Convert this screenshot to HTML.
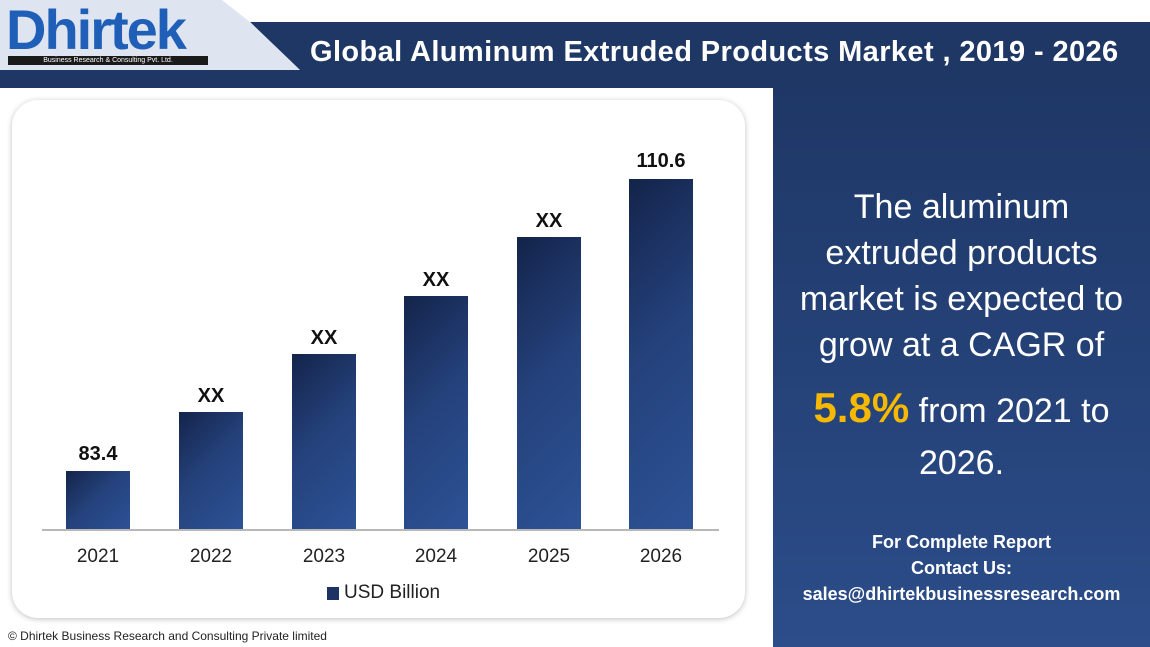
<!DOCTYPE html>
<html><head><meta charset="utf-8"><style>
body{margin:0;width:1150px;height:647px;position:relative;overflow:hidden;background:#fff;font-family:"Liberation Sans",sans-serif}
.a{position:absolute}
.bar{position:absolute;width:64px;background:linear-gradient(135deg,#14244a 0%,#24417a 45%,#2d5296 100%)}
.lbl{position:absolute;width:120px;text-align:center;font-weight:bold;font-size:20px;color:#111}
.yr{position:absolute;width:120px;text-align:center;font-size:19px;color:#222;top:546px}
.rt{position:absolute;left:773px;width:377px;text-align:center;color:#fff;font-size:34px;line-height:46px}
</style></head><body>
<svg class="a" style="left:0;top:0" width="1150" height="100">
<polygon points="0,0 222,0 300,70 0,70" fill="#dfe5f0"/>
<polygon points="250,22 1150,22 1150,88 0,88 0,70 300,70" fill="#1e3764"/>
<polygon points="222,0 300,70 250,22" fill="#dfe5f0"/>
</svg>
<div class="a" style="left:6px;top:2px;font-size:56px;font-weight:bold;color:#1f5fb8;letter-spacing:-2px;line-height:56px">Dhirtek</div>
<div class="a" style="left:8px;top:56px;width:200px;height:9px;background:#1a1a1a;color:#fff;font-size:7px;line-height:9px;text-align:center">Business Research &amp; Consulting Pvt. Ltd.</div>
<div class="a" style="left:310px;top:36px;font-size:29px;font-weight:bold;color:#fff;white-space:nowrap;letter-spacing:0.4px">Global Aluminum Extruded Products Market , 2019 - 2026</div>
<div class="a" style="left:773px;top:88px;width:377px;height:559px;background:linear-gradient(180deg,#1e3766,#2c4d8a)"></div>
<div class="a" style="left:12px;top:100px;width:733px;height:518px;background:#fff;border-radius:26px;box-shadow:0 1px 6px rgba(0,0,0,.25)"></div>
<div class="a" style="left:42px;top:529px;width:677px;height:2px;background:#b8b8b8"></div>
<div class="bar" style="left:66px;top:471px;height:58px"></div>
<div class="bar" style="left:179px;top:412px;height:117px"></div>
<div class="bar" style="left:292px;top:354px;height:175px"></div>
<div class="bar" style="left:404px;top:296px;height:233px"></div>
<div class="bar" style="left:517px;top:237px;height:292px"></div>
<div class="bar" style="left:629px;top:179px;height:350px"></div>
<div class="lbl" style="left:38px;top:443px">83.4</div>
<div class="lbl" style="left:151px;top:385px">XX</div>
<div class="lbl" style="left:264px;top:327px">XX</div>
<div class="lbl" style="left:376px;top:269px">XX</div>
<div class="lbl" style="left:489px;top:210px">XX</div>
<div class="lbl" style="left:601px;top:150px">110.6</div>
<div class="yr" style="left:38px">2021</div>
<div class="yr" style="left:151px">2022</div>
<div class="yr" style="left:264px">2023</div>
<div class="yr" style="left:376px">2024</div>
<div class="yr" style="left:489px">2025</div>
<div class="yr" style="left:601px">2026</div>
<div class="a" style="left:327px;top:587px;width:12px;height:13px;background:#1c3364"></div>
<div class="a" style="left:344px;top:582px;font-size:19px;color:#222">USD Billion</div>
<div class="a" style="left:8px;top:629px;font-size:12px;color:#222">© Dhirtek Business Research and Consulting Private limited</div>
<div class="rt" style="top:184px">The aluminum<br>extruded products<br>market is expected to<br>grow at a CAGR of</div>
<div class="rt" style="top:382px;line-height:52px"><span style="color:#f7b900;font-weight:bold;font-size:42px">5.8%</span> from 2021 to<br>2026.</div>
<div class="rt" style="top:529px;font-size:18px;line-height:26px;font-weight:bold">For Complete Report<br>Contact Us:<br>sales@dhirtekbusinessresearch.com</div>
</body></html>
